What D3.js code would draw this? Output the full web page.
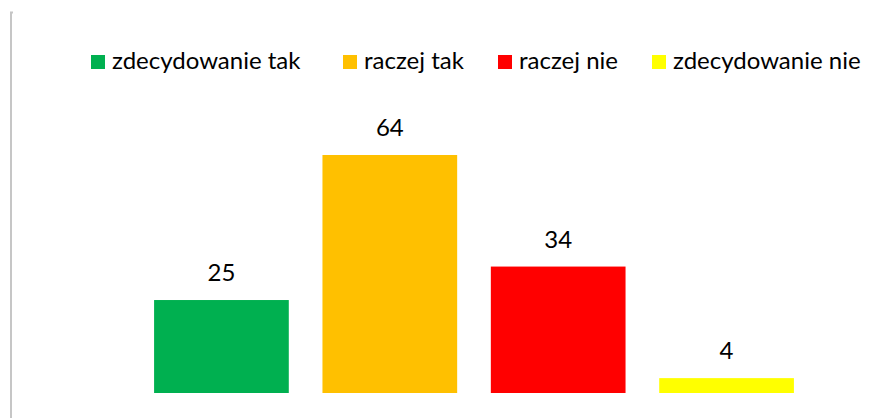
<!DOCTYPE html>
<html>
<head>
<meta charset="utf-8">
<script src="https://cdn.jsdelivr.net/npm/d3@7"></script>
<style>
body { margin: 0; background: #fff; }
svg { display: block; }
text { font-family: Lato, "Open Sans", sans-serif; fill: #000; }
</style>
</head>
<body>
<svg width="896" height="418"></svg>
<script>
// data
const categories = ["zdecydowanie tak", "raczej tak", "raczej nie", "zdecydowanie nie"]
const values = [25, 64, 34, 4]
const colors = ["#00b050", "#ffc000", "#ff0000", "#ffff00"]

const svg = d3.select("svg")

// left border line of the chart area
svg.append("path")
	.attr("d", "M13,12.5 H11 V418")
	.attr("fill", "none")
	.attr("stroke", "#c6c6c6")
	.attr("stroke-width", 2)

// scales
const x = d3.scaleBand()
	.domain(categories)
	.range([137.25, 810.75])
	.paddingInner(0.2)
	.paddingOuter(0.1)

const y = d3.scaleLinear()
	.domain([0, 64])
	.range([393, 155])

// bars
svg.selectAll("rect.bar")
	.data(categories)
	.enter()
	.append("rect")
	.attr("class", "bar")
	.attr("x", d => x(d))
	.attr("y", (d, i) => y(values[i]))
	.attr("width", x.bandwidth())
	.attr("height", (d, i) => y(0) - y(values[i]))
	.attr("fill", (d, i) => colors[i])

// value labels
svg.selectAll("text.value")
	.data(categories)
	.enter()
	.append("text")
	.attr("class", "value")
	.attr("x", d => x(d) + x.bandwidth() / 2)
	.attr("y", (d, i) => y(values[i]) - 19)
	.attr("text-anchor", "middle")
	.style("font-size", "24px")
	.text((d, i) => values[i])

// legend
const legendX = [91, 343, 498, 652]
const legend = svg.selectAll("g.legend")
	.data(categories)
	.enter()
	.append("g")
	.attr("class", "legend")
	.attr("transform", (d, i) => `translate(${legendX[i]},0)`)

legend.append("rect")
	.attr("x", 0)
	.attr("y", 55)
	.attr("width", 14)
	.attr("height", 14)
	.attr("fill", (d, i) => colors[i])

legend.append("text")
	.attr("x", 21)
	.attr("y", 69)
	.style("font-size", "24px")
	.text(d => d)
</script>
</body>
</html>
